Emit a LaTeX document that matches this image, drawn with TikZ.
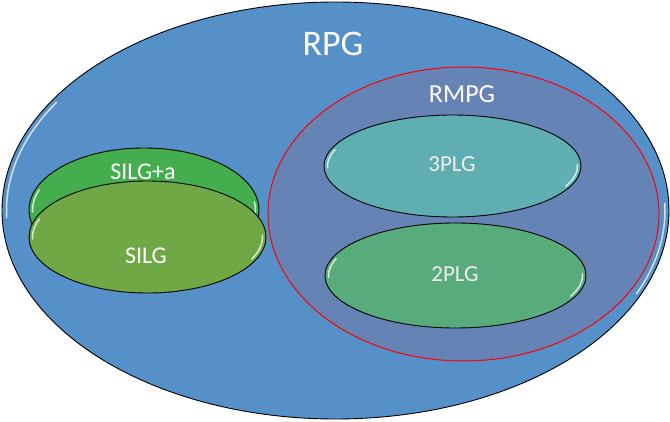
\documentclass[tikz,border=0pt]{standalone}
\usepackage{fontspec}
\setmainfont{Carlito}
\usetikzlibrary{shapes.geometric}
\definecolor{rpgblue}{HTML}{5590C8}
\definecolor{rmpgfill}{HTML}{6683B5}
\definecolor{threeplg}{HTML}{5EAEB2}
\definecolor{twoplg}{HTML}{58AC7C}
\definecolor{silga}{HTML}{44AE4E}
\definecolor{silg}{HTML}{6FA845}
\definecolor{offwhite}{HTML}{F2ECEC}
\tikzset{
  set/.style={ellipse, draw=black, line width=0.9pt, inner sep=0pt},
  txt/.style={text=white, inner sep=0pt, anchor=center},
  shine/.style={white, line width=1.5pt, line cap=round, opacity=0.75}
}
\begin{document}
\begin{tikzpicture}[x=1pt,y=-1pt]
\useasboundingbox (0,0) rectangle (670,422);
% RPG
\node[set, fill=rpgblue, minimum width=667pt, minimum height=417pt] (rpg) at (335.5,210.5) {};
\draw[shine] (rpg.center) ++(148:329pt and 204pt) arc[start angle=148, end angle=182, x radius=329pt, y radius=204pt];
\draw[shine] (rpg.center) ++(-24:329.5pt and 204.5pt) arc[start angle=-24, end angle=2, x radius=329.5pt, y radius=204.5pt];
\node[txt, font=\fontsize{36}{40}\selectfont] (rpgt) at (333,44) {RPG};
% RMPG
\node[ellipse, draw=red, line width=1pt, fill=rmpgfill, inner sep=0pt, minimum width=391pt, minimum height=294pt] (rmpg) at (463.5,214) {};
\node[txt, font=\fontsize{26}{30}\selectfont] (rmpgt) at (462,94) {RMPG};
% 3PLG
\node[set, fill=threeplg, minimum width=257pt, minimum height=102pt] (p3) at (452.5,166) {};
\draw[shine] (p3.center) ++(160:125pt and 47.5pt) arc[start angle=160, end angle=182, x radius=125pt, y radius=47.5pt];
\draw[shine] (p3.center) ++(-25:125pt and 47.5pt) arc[start angle=-25, end angle=2, x radius=125pt, y radius=47.5pt];
\node[txt, text=offwhite, font=\fontsize{23}{27}\selectfont] (p3t) at (452,164) {3PLG};
% 2PLG
\node[set, fill=twoplg, minimum width=261pt, minimum height=105pt] (p2) at (455.5,275.5) {};
\draw[shine] (p2.center) ++(160:127pt and 49pt) arc[start angle=160, end angle=182, x radius=127pt, y radius=49pt];
\draw[shine] (p2.center) ++(-25:127pt and 49pt) arc[start angle=-25, end angle=2, x radius=127pt, y radius=49pt];
\node[txt, text=offwhite, font=\fontsize{23}{27}\selectfont] (p2t) at (455,274) {2PLG};
% SILG+a
\node[set, fill=silga, minimum width=230pt, minimum height=124pt] (sa) at (144,210) {};
\draw[shine] (sa.center) ++(160:111.5pt and 58.5pt) arc[start angle=160, end angle=182, x radius=111.5pt, y radius=58.5pt];
\draw[shine] (sa.center) ++(-5:111.5pt and 58.5pt) arc[start angle=-5, end angle=8, x radius=111.5pt, y radius=58.5pt];
\node[txt, font=\fontsize{24}{28}\selectfont] (sat) at (143,172) {SILG+a};
% SILG
\node[set, fill=silg, minimum width=237pt, minimum height=112pt] (s) at (147.5,237) {};
\draw[shine] (s.center) ++(160:115pt and 52.5pt) arc[start angle=160, end angle=182, x radius=115pt, y radius=52.5pt];
\draw[shine] (s.center) ++(-25:115pt and 52.5pt) arc[start angle=-25, end angle=2, x radius=115pt, y radius=52.5pt];
\node[txt, font=\fontsize{24}{28}\selectfont] (st) at (146,256) {SILG};
\end{tikzpicture}
\end{document}
